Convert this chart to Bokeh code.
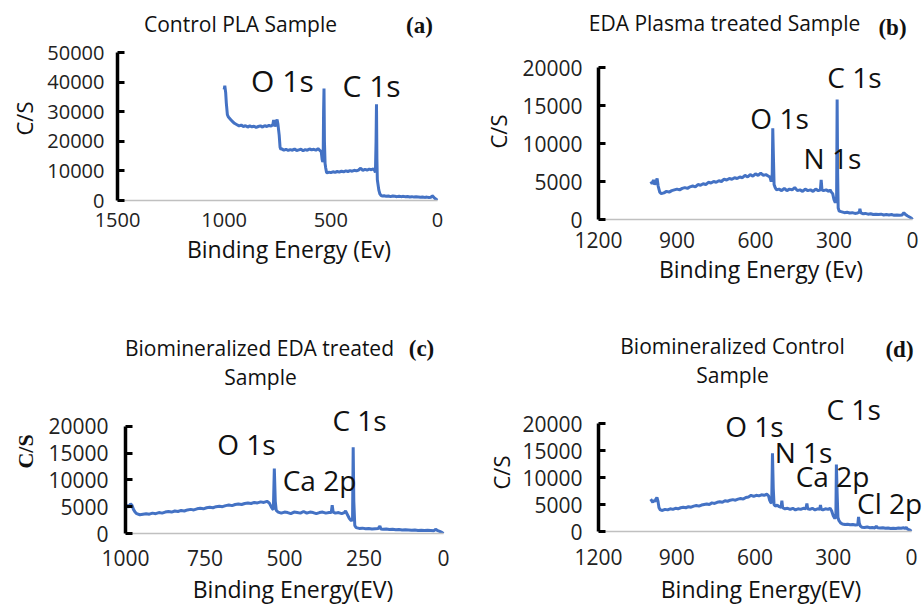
import math
from bokeh.plotting import figure
from bokeh.models import Range1d, FixedTicker, Label
from bokeh.core.properties import value
from bokeh.layouts import row, column
from bokeh.embed import file_html
from bokeh.resources import INLINE

# ---------------- data ----------------
# Panel (a) Control PLA Sample: (binding energy eV, counts/s)
spec_a = [(1000, 37500), (997, 38800), (993, 36500), (990, 33000), (985, 29000), (980, 28200),
          (970, 27400), (960, 26600), (950, 26000), (940, 25600), (930, 25200), (920, 25500),
          (910, 25000), (900, 25300), (890, 24800), (880, 25200), (870, 24900), (860, 25100),
          (850, 24700), (840, 25000), (830, 25200), (820, 24800), (810, 25300), (800, 25000),
          (790, 25400), (780, 25100), (772, 25600), (768, 27200), (762, 25000), (758, 26000),
          (752, 27400), (748, 25800), (742, 22000), (738, 18000), (734, 17200), (730, 17500),
          (720, 17000), (710, 17300), (700, 16900), (690, 17200), (680, 17000), (670, 17400),
          (660, 16900), (650, 17100), (640, 17300), (630, 16800), (620, 17200), (610, 17000),
          (600, 17400), (590, 17100), (580, 17300), (570, 17000), (560, 17500), (550, 16800),
          (545, 16500), (541, 14000), (538, 13000), (536, 13500), (534, 30000), (532, 37800),
          (530, 20000), (527, 12500), (524, 11000), (520, 9500), (515, 9300), (510, 9600),
          (500, 9400), (490, 9700), (480, 9500), (470, 9800), (460, 9600), (450, 9900),
          (440, 9700), (430, 10000), (420, 9800), (410, 10100), (400, 9900), (390, 10200),
          (380, 10000), (370, 10300), (360, 10900), (350, 10200), (340, 10500), (330, 10300),
          (320, 10600), (310, 10400), (300, 10700), (295, 10200), (291, 9500), (288, 20000),
          (286, 32500), (284, 14000), (282, 7000), (279, 5500), (275, 3500), (270, 2200),
          (265, 1700), (260, 1500), (250, 1600), (240, 1400), (230, 1500), (220, 1300),
          (210, 1500), (200, 1400), (190, 1300), (180, 1450), (170, 1300), (160, 1400),
          (150, 1250), (140, 1350), (130, 1200), (120, 1300), (110, 1150), (100, 1250),
          (90, 1200), (80, 1100), (70, 1200), (60, 1050), (50, 1150), (40, 1000), (30, 1100),
          (25, 1600), (20, 1300), (15, 900), (10, 600), (5, 300), (0, 100)]

# Panel (b) EDA Plasma treated Sample
spec_b = [(1000, 5000), (995, 4700), (990, 5200), (985, 4600), (980, 5000), (976, 5400),
          (972, 4400), (966, 3600), (960, 3400), (950, 3500), (940, 3700), (930, 3600),
          (920, 3800), (910, 3900), (900, 4000), (890, 3900), (880, 4100), (870, 4200),
          (860, 4100), (850, 4300), (840, 4400), (830, 4300), (820, 4600), (810, 4500),
          (800, 4700), (790, 4600), (780, 4900), (770, 4800), (760, 5000), (750, 4900),
          (740, 5100), (730, 5000), (720, 5300), (710, 5200), (700, 5400), (690, 5300),
          (680, 5500), (670, 5400), (660, 5600), (650, 5500), (640, 5800), (630, 5600),
          (620, 5900), (610, 5700), (600, 6000), (590, 5800), (580, 6100), (570, 5800),
          (560, 5900), (550, 5700), (545, 5600), (540, 5000), (536, 6000), (534, 12000),
          (532, 9000), (529, 4600), (525, 4200), (520, 3900), (510, 4000), (500, 3800),
          (490, 4100), (480, 3800), (470, 4000), (460, 3900), (450, 4200), (440, 3800),
          (430, 3900), (420, 3700), (410, 4000), (400, 3800), (390, 3900), (380, 3700),
          (370, 4000), (360, 3800), (352, 3900), (349, 5200), (346, 3900), (340, 3800),
          (330, 3900), (320, 3700), (315, 3900), (310, 3600), (305, 3400), (300, 2600),
          (295, 2200), (290, 3000), (288, 15800), (286, 6000), (284, 1500), (280, 1100),
          (270, 1000), (260, 900), (250, 950), (240, 850), (230, 900), (220, 800),
          (210, 850), (203, 1000), (201, 1400), (198, 900), (190, 750), (180, 800),
          (170, 700), (160, 750), (150, 650), (140, 700), (130, 650), (120, 700),
          (110, 600), (100, 650), (90, 600), (80, 650), (70, 550), (60, 600), (50, 550),
          (40, 600), (33, 900), (28, 700), (20, 500), (10, 300), (5, 200), (0, 0)]

# Panel (c) Biomineralized EDA treated Sample
spec_c = [(1000, 5000), (996, 5300), (992, 4900), (988, 5200), (984, 5500), (980, 5300),
          (975, 4500), (970, 4000), (965, 3700), (955, 3500), (945, 3600), (935, 3700),
          (925, 3600), (915, 3800), (905, 3700), (895, 3900), (885, 3800), (875, 4000),
          (865, 4100), (855, 4000), (845, 4200), (835, 4100), (825, 4300), (815, 4200),
          (805, 4400), (795, 4500), (785, 4400), (775, 4600), (765, 4700), (755, 4600),
          (745, 4800), (735, 4900), (725, 4800), (715, 5000), (705, 5100), (695, 5000),
          (685, 5200), (675, 5300), (665, 5200), (655, 5400), (645, 5500), (635, 5400),
          (625, 5600), (615, 5700), (605, 5600), (595, 5800), (585, 5700), (575, 5900),
          (565, 5800), (555, 6000), (548, 5700), (542, 5000), (538, 4600), (535, 4500),
          (532, 12100), (529, 6000), (526, 4300), (520, 4000), (510, 3800), (500, 4000),
          (490, 3900), (480, 3700), (470, 4000), (460, 3900), (450, 3800), (440, 4100),
          (430, 3800), (420, 4000), (410, 3900), (400, 3700), (390, 3900), (380, 4000),
          (370, 3800), (360, 3900), (353, 3900), (350, 5300), (347, 4000), (340, 3800),
          (330, 3900), (320, 3700), (312, 3900), (308, 4200), (302, 3500), (296, 2800),
          (290, 2400), (286, 2600), (284, 16100), (282, 6000), (279, 1500), (275, 1100),
          (265, 950), (255, 1000), (245, 900), (235, 950), (225, 850), (215, 900),
          (205, 950), (200, 1400), (197, 850), (190, 800), (180, 850), (170, 750),
          (160, 800), (150, 700), (140, 750), (130, 650), (120, 700), (110, 650),
          (100, 600), (90, 650), (80, 550), (70, 600), (60, 550), (50, 600), (40, 550),
          (30, 500), (25, 800), (20, 600), (12, 400), (5, 200), (0, 0)]

# Panel (d) Biomineralized Control Sample
spec_d = [(1000, 6000), (996, 5700), (992, 5400), (988, 5800), (984, 5500), (980, 6000),
          (976, 6300), (972, 5600), (968, 4400), (963, 4000), (955, 3900), (945, 4100),
          (935, 4000), (925, 4200), (915, 4100), (905, 4300), (895, 4200), (885, 4400),
          (875, 4500), (865, 4400), (855, 4600), (845, 4500), (835, 4700), (825, 4800),
          (815, 4700), (805, 4900), (795, 5000), (785, 5100), (775, 5000), (765, 5300),
          (755, 5200), (745, 5400), (735, 5500), (725, 5400), (715, 5700), (705, 5600),
          (695, 5800), (685, 5900), (675, 5800), (665, 6000), (655, 6100), (645, 6000),
          (635, 6300), (625, 6400), (615, 6700), (605, 6500), (595, 6700), (585, 6600),
          (575, 6800), (565, 6700), (555, 6900), (548, 6600), (544, 5800), (540, 5400),
          (536, 5300), (533, 14500), (530, 8000), (527, 5000), (522, 4700), (515, 4900),
          (508, 4600), (500, 4500), (497, 5700), (494, 4400), (485, 4200), (475, 4300),
          (465, 4100), (455, 4300), (445, 4000), (435, 4200), (425, 4100), (415, 4300),
          (405, 4200), (401, 5200), (398, 4200), (390, 4100), (380, 4300), (370, 4000),
          (360, 4200), (352, 4100), (349, 4900), (346, 4100), (340, 4000), (330, 4200),
          (320, 4100), (312, 4300), (306, 3800), (300, 2900), (294, 2400), (290, 2700),
          (288, 12400), (285, 7000), (282, 2600), (278, 2000), (272, 1600), (265, 1400),
          (255, 1300), (245, 1350), (235, 1250), (225, 1300), (215, 1200), (206, 1250),
          (203, 2700), (200, 1500), (196, 1000), (190, 800), (180, 750), (170, 850),
          (160, 700), (150, 750), (140, 650), (135, 1000), (130, 700), (120, 650),
          (110, 700), (100, 600), (90, 650), (80, 550), (70, 600), (60, 550), (50, 650),
          (40, 600), (30, 700), (25, 550), (20, 750), (15, 450), (8, 300), (0, 50)]

titles = {
    "a": ["Control PLA Sample"],
    "b": ["EDA Plasma treated Sample"],
    "c": ["Biomineralized EDA treated", "Sample"],
    "d": ["Biomineralized Control", "Sample"],
}
tags = {"a": "(a)", "b": "(b)", "c": "(c)", "d": "(d)"}
x_labels = {"a": "Binding Energy (Ev)", "b": "Binding Energy (Ev)",
            "c": "Binding Energy(EV)", "d": "Binding Energy(EV)"}
y_label = "C/S"
x_ticks = {"a": [1500, 1000, 500, 0], "b": [1200, 900, 600, 300, 0],
           "c": [1000, 750, 500, 250, 0], "d": [1200, 900, 600, 300, 0]}
y_ticks = {"a": [0, 10000, 20000, 30000, 40000, 50000],
           "b": [0, 5000, 10000, 15000, 20000],
           "c": [0, 5000, 10000, 15000, 20000],
           "d": [0, 5000, 10000, 15000, 20000]}

# peak annotations: (text, energy, counts)
peaks = {
    "a": [("O 1s", 727, 40500), ("C 1s", 309, 38900)],
    "b": [("C 1s", 222, 18700), ("O 1s", 508, 13300), ("N 1s", 306, 8150)],
    "c": [("C 1s", 264, 21100), ("O 1s", 620, 16650), ("Ca 2p", 390, 10000)],
    "d": [("C 1s", 222, 22750), ("O 1s", 602, 19450), ("N 1s", 414, 14800),
          ("Ca 2p", 303, 10200), ("Cl 2p", 84, 5370)],
}

FONT = "Open Sans"
BLUE = "#4472C4"

# layout per panel (panel pixels): L = y-axis position, Z = pixel of x=0,
# T = pixel of top y tick, B = pixel of y=0, hh = header strip height,
# ws = width of the strip holding the rotated y-axis title
cfg = {
    "a": dict(w=460, h=300, hh=38, ws=42, L=117, Z=437, T=52, B=200, peak_fs=30, tick_fs=20,
              title_xy=[(240, 23)], tag_xy=(419, 25), ylab_xy=(23, 118), ylab_bold=False,
              xstand=6, xlstand=3, ystand=13),
    "b": dict(w=463, h=300, hh=44, ws=56, L=138, Z=452, T=67, B=219, peak_fs=28, tick_fs=21,
              title_xy=[(264, 22)], tag_xy=(432, 27), ylab_xy=(37, 131), ylab_bold=False,
              xstand=6, xlstand=2, ystand=16),
    "c": dict(w=460, h=307, hh=90, ws=42, L=125, Z=443, T=126, B=234, peak_fs=28, tick_fs=21,
              title_xy=[(259, 47), (260, 76)], tag_xy=(421, 48), ylab_xy=(25, 151), ylab_bold=True,
              xstand=10, xlstand=4, ystand=17),
    "d": dict(w=463, h=307, hh=88, ws=56, L=138, Z=451, T=123, B=231, peak_fs=28, tick_fs=21,
              title_xy=[(272, 45), (272, 74)], tag_xy=(439, 49), ylab_xy=(40, 172), ylab_bold=False,
              xstand=11, xlstand=5, ystand=16),
}
spectra = {"a": spec_a, "b": spec_b, "c": spec_c, "d": spec_d}


def blank(width, height):
    f = figure(width=width, height=height, title=None, x_range=Range1d(0, width),
               y_range=Range1d(height, 0), x_axis_location=None, y_axis_location=None,
               output_backend="svg", toolbar_location=None, min_border=0)
    f.outline_line_color = None
    f.grid.visible = False
    f.background_fill_color = "white"
    f.border_fill_color = "white"
    return f


def make_header(key):
    c = cfg[key]
    hdr = blank(c["w"], c["hh"])
    tx = [xy[0] for xy in c["title_xy"]]
    ty = [xy[1] for xy in c["title_xy"]]
    hdr.text(x=tx, y=ty, text=titles[key], text_font=value(FONT), text_font_size=value("21px"),
             text_align="center", text_baseline="middle", text_color="#111111")
    hdr.text(x=[c["tag_xy"][0]], y=[c["tag_xy"][1]], text=[tags[key]],
             text_font=value("Liberation Serif"), text_font_style="bold",
             text_font_size=value("23px"), text_align="center", text_baseline="middle",
             text_color="#111111")
    return hdr


def make_ystrip(key):
    c = cfg[key]
    s = blank(c["ws"], c["h"] - c["hh"])
    bold = c["ylab_bold"]
    s.text(x=[c["ylab_xy"][0]], y=[c["ylab_xy"][1] - c["hh"]], text=[y_label], angle=math.pi / 2,
           text_font=value("Liberation Serif" if bold else FONT),
           text_font_style="bold" if bold else "normal", text_font_size=value("22px"),
           text_align="center", text_baseline="middle", text_color="#111111")
    return s


def make_plot(key):
    c = cfg[key]
    xt = x_ticks[key]
    yt = y_ticks[key]
    xmax, ymax = max(xt), max(yt)
    hh, ws = c["hh"], c["ws"]
    L, Z = c["L"] - ws, c["Z"] - ws
    T, B = c["T"] - hh, c["B"] - hh
    pw, ph = c["w"] - ws, c["h"] - hh

    def dx(px):  # pixel -> energy
        return xmax - (px - L) / (Z - L) * xmax

    def dy(py):  # pixel -> counts
        return (B - py) / (B - T) * ymax

    # frame runs to the top/right edges; axes are bounded to the data span
    p = figure(width=pw, height=ph, title=None,
               x_range=Range1d(xmax, dx(pw)), y_range=Range1d(0, dy(0)),
               output_backend="svg", toolbar_location=None,
               min_border_left=L, min_border_right=0,
               min_border_top=0, min_border_bottom=ph - B)
    p.outline_line_color = None
    p.grid.visible = False
    p.background_fill_color = "white"
    p.border_fill_color = "white"

    ev = [e for e, _ in spectra[key]]
    cps = [v for _, v in spectra[key]]
    p.line(ev, cps, line_color=BLUE, line_width=3)

    xa = p.xaxis[0]
    xa.ticker = FixedTicker(ticks=xt)
    xa.bounds = (0, xmax)
    xa.axis_line_color = "#c0c0c0"
    xa.axis_line_width = 1.5
    xa.major_tick_line_color = None
    xa.minor_tick_line_color = None
    xa.major_label_text_font = FONT
    xa.major_label_text_font_size = "%dpx" % c["tick_fs"]
    xa.major_label_text_color = "#222222"
    xa.major_label_standoff = c["xstand"]
    xa.axis_label = x_labels[key]
    xa.axis_label_text_font = FONT
    xa.axis_label_text_font_size = "23px"
    xa.axis_label_text_font_style = "normal"
    xa.axis_label_text_color = "#111111"
    xa.axis_label_standoff = c["xlstand"]

    ya = p.yaxis[0]
    ya.ticker = FixedTicker(ticks=yt)
    ya.bounds = (0, ymax)
    ya.axis_line_color = "black"
    ya.axis_line_width = 3.5
    ya.major_tick_in = 7
    ya.major_tick_out = 0
    ya.major_tick_line_width = 3
    ya.major_tick_line_color = "black"
    ya.minor_tick_line_color = None
    ya.major_label_text_font = FONT
    ya.major_label_text_font_size = "%dpx" % c["tick_fs"]
    ya.major_label_text_color = "#222222"
    ya.major_label_standoff = c["ystand"]

    for txt, e, v in peaks[key]:
        p.add_layout(Label(x=e, y=v, text=txt, text_font=FONT,
                           text_font_size="%dpx" % c["peak_fs"], text_align="center",
                           text_baseline="middle", text_color="#111111"))
    return p


def panel(key):
    body = row(column(make_ystrip(key)), column(make_plot(key)))
    return column(column(make_header(key)), body)


layout = column(row(panel("a"), panel("b")), row(panel("c"), panel("d")))

open("out.html", "w").write(file_html(layout, INLINE))
